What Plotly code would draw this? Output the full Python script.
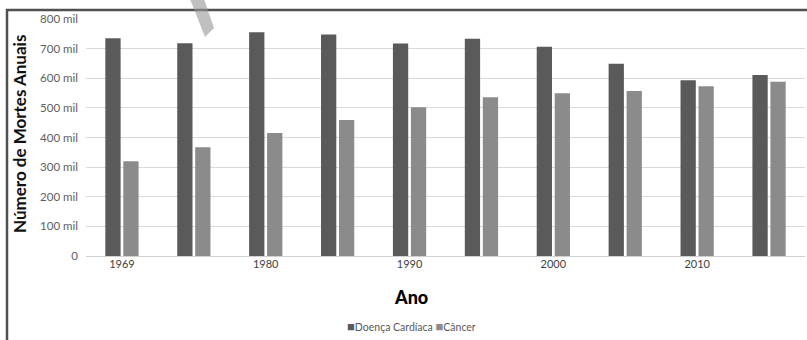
import plotly.graph_objects as go

# ---- data ----
categories = ["1969", "1975", "1980", "1985", "1990", "1995", "2000", "2005", "2010", "2015"]
tick_labels = ["1969", "", "1980", "", "1990", "", "2000", "", "2010", ""]
doenca_cardiaca = [735, 718, 755, 748, 717, 733, 706, 649, 593, 611]
cancer = [320, 367, 415, 459, 502, 536, 549, 557, 573, 588]
y_tick_vals = [0, 100, 200, 300, 400, 500, 600, 700, 800]
y_tick_text = ["0", "100 mil", "200 mil", "300 mil", "400 mil", "500 mil", "600 mil", "700 mil", "800 mil"]

DARK = "#5a5a5a"
LIGHT = "#8b8b8b"

W, H = 807, 340
ML, MR, MT, MB = 86, 2, 19, 84
PW = W - ML - MR
PH = H - MT - MB


def px(x):
    return (x - ML) / PW


def py(y):
    return (H - MB - y) / PH


fig = go.Figure()
fig.add_trace(go.Bar(x=categories, y=doenca_cardiaca, name="Doença Cardíaca",
                     marker=dict(color=DARK, line=dict(width=0)), showlegend=False))
fig.add_trace(go.Bar(x=categories, y=cancer, name="Câncer",
                     marker=dict(color=LIGHT, line=dict(width=0)), showlegend=False))

fig.update_layout(
    width=W, height=H,
    margin=dict(l=ML, r=MR, t=MT, b=MB, pad=0),
    paper_bgcolor="white", plot_bgcolor="white",
    barmode="group", bargap=0.5, bargroupgap=0.15,
    font=dict(family="Lato, Open Sans, sans-serif", color="#595959"),
    xaxis=dict(type="category", tickmode="array", tickvals=categories, ticktext=tick_labels,
               showgrid=False, showline=False, zeroline=False, ticks="",
               tickfont=dict(size=11, color="#404040"), fixedrange=True),
    yaxis=dict(range=[0, 800], tickmode="array", tickvals=y_tick_vals, ticktext=y_tick_text,
               showgrid=True, gridcolor="#d9d9d9", gridwidth=1, zeroline=True,
               zerolinecolor="#d0d0d0", zerolinewidth=1, showline=False, ticks="",
               ticklabelstandoff=7, tickfont=dict(size=11.5, color="#606060"), fixedrange=True),
)

# axis titles
fig.add_annotation(text="<b>Número de Mortes Anuais</b>", textangle=-90,
                   xref="paper", yref="paper", x=px(19), y=py(134),
                   xanchor="center", yanchor="middle", showarrow=False,
                   font=dict(family="Lato, sans-serif", size=17, color="#111111"))
fig.add_annotation(text="Ano", xref="paper", yref="paper", x=px(411), y=py(297),
                   xanchor="center", yanchor="middle", showarrow=False,
                   font=dict(family="Lato, sans-serif", size=18, color="#000000", weight=900))

# legend
fig.add_annotation(
    text=(f"<span style='color:{DARK};font-size:13px'>■</span>Doença Cardíaca "
          f"<span style='color:{LIGHT};font-size:13px'>■</span>Câncer"),
    xref="paper", yref="paper", x=px(411), y=py(326), xanchor="center", yanchor="middle",
    showarrow=False, font=dict(family="Lato, sans-serif", size=10.5, color="#595959"))

# frame (left and top border)
fig.add_shape(type="path", xref="paper", yref="paper",
              path=f"M {px(7)} {py(341)} L {px(7)} {py(10)} L {px(808)} {py(10)}",
              line=dict(color="#505050", width=2.5), layer="above")

# diagonal gray stripe at top
fig.add_shape(type="path", xref="paper", yref="paper",
              path=(f"M {px(190)} {py(-1)} L {px(204)} {py(-1)} L {px(214)} {py(28)} "
                    f"L {px(205)} {py(37)} Z"),
              fillcolor="rgba(150,150,150,0.6)", line=dict(width=0), layer="above")

fig.write_html("out.html", config={"displayModeBar": False},
               post_script="document.body.style.margin='0';document.body.style.overflow='hidden';")
